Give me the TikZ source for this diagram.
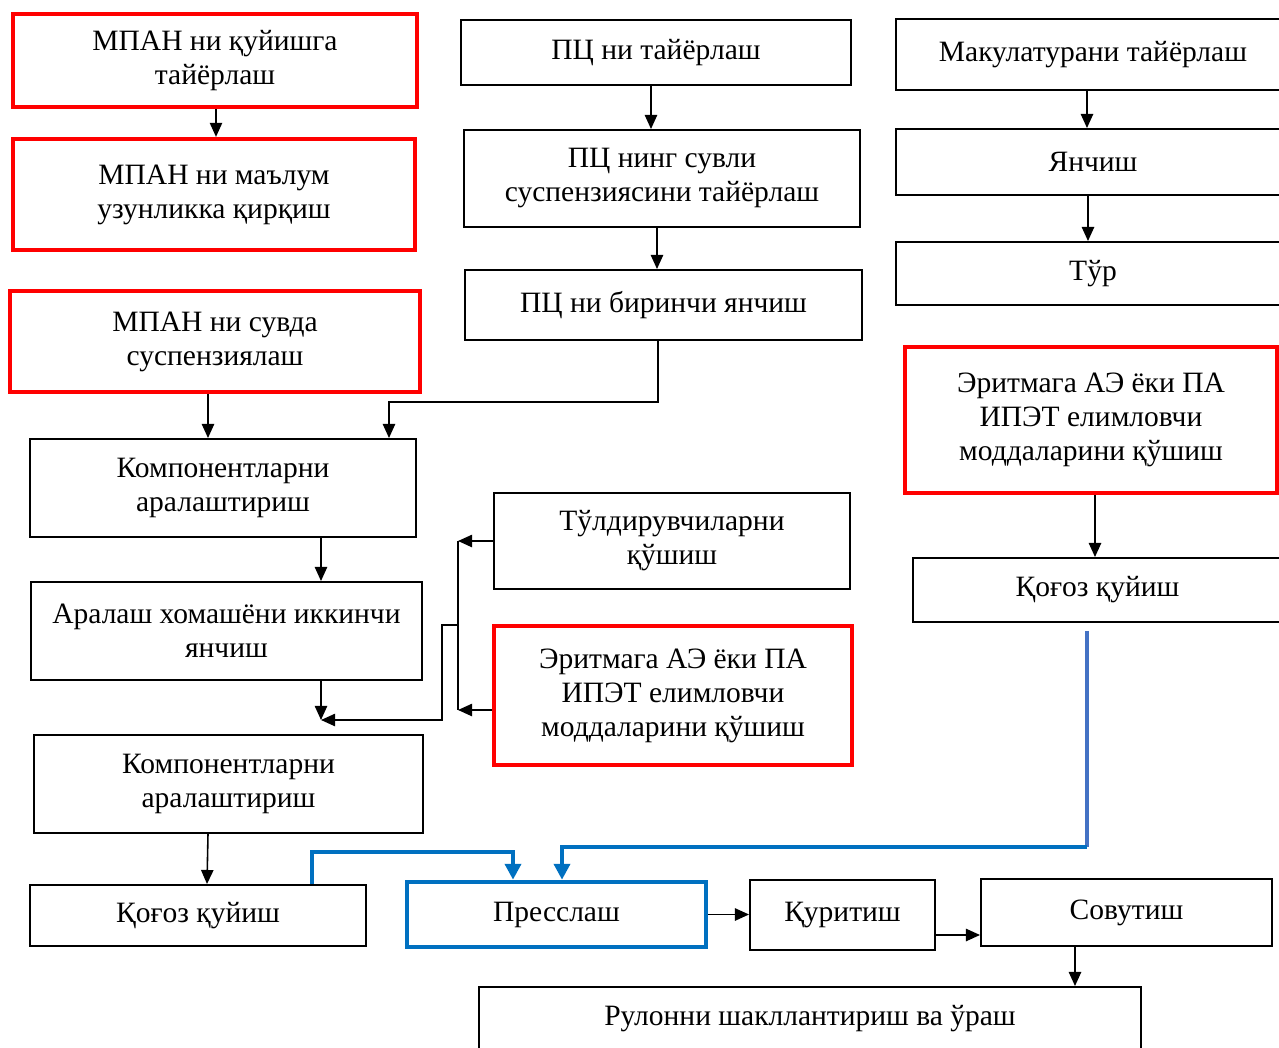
\documentclass[tikz,border=0pt]{standalone}
\usepackage{fontspec}
\setmainfont{Liberation Serif}
\usetikzlibrary{arrows.meta, positioning, calc}
\definecolor{flowred}{HTML}{FF0000}
\definecolor{flowblue}{HTML}{0070C0}
\definecolor{flowlightblue}{HTML}{4472C4}

\begin{document}
\begin{tikzpicture}[
    x=0.02cm, y=-0.02cm,
    box/.style={
      rectangle, draw, inner sep=0pt, align=center, line width=1.1pt,
      font=\fontsize{16.8}{19.35}\selectfont
    },
    boxsize/.style 2 args={minimum width=#1*0.02cm, minimum height=#2*0.02cm},
    redbox/.style={box, draw=flowred, line width=2.4pt},
    bluebox/.style={box, draw=flowblue, line width=2.6pt},
    arrow/.style={-{Triangle[length=8pt, width=7pt]}, line width=0.9pt},
    bluearrow/.style={-{Triangle[length=9pt, width=9pt]}, draw=flowblue, line width=2.6pt},
]
  \useasboundingbox (0,0) rectangle (1279,1048);

  % left column
  \node[redbox, boxsize={404}{93}] (mpanprep) at (215,60.5) {МПАН ни қуйишга\\тайёрлаш};
  \node[redbox, boxsize={402}{111}] (mpancut) at (214,194.5) {МПАН ни маълум\\узунликка қирқиш};
  \node[redbox, boxsize={410}{101}] (mpansusp) at (215,341.5) {МПАН ни сувда\\суспензиялаш};
  \node[box, boxsize={386}{98}] (mixone) at (223,488) {Компонентларни\\аралаштириш};
  \node[box, boxsize={391}{98}] (grindtwo) at (226.5,631) {Аралаш хомашёни иккинчи\\янчиш};
  \node[box, boxsize={389}{98}] (mixtwo) at (228.5,784) {Компонентларни\\аралаштириш};
  \node[box, boxsize={336}{61}] (castleft) at (198,915.5) {Қоғоз қуйиш};

  % middle column
  \node[box, boxsize={390}{65}] (pcprep) at (656,52.5) {ПЦ ни тайёрлаш};
  \node[box, boxsize={396}{97}] (pcsusp) at (662,178.5) {ПЦ нинг сувли\\суспензиясини тайёрлаш};
  \node[box, boxsize={397}{70}] (pcgrind) at (663.5,305) {ПЦ ни биринчи янчиш};
  \node[box, boxsize={356}{96}] (filler) at (672,541) {Тўлдирувчиларни\\қўшиш};
  \node[redbox, boxsize={358}{139}] (gluemid) at (673,695.5) {Эритмага АЭ ёки ПА\\ИПЭТ елимловчи\\моддаларини қўшиш};

  % right column
  \node[box, boxsize={394}{71}] (wasteprep) at (1093,54.5) {Макулатурани тайёрлаш};
  \node[box, boxsize={394}{66}] (wastegrind) at (1093,162) {Янчиш};
  \node[box, boxsize={394}{63}] (mesh) at (1093,273.5) {Тўр};
  \node[redbox, boxsize={372}{146}] (glueright) at (1091,420) {Эритмага АЭ ёки ПА\\ИПЭТ елимловчи\\моддаларини қўшиш};
  \node[box, boxsize={369}{64}] (castright) at (1097.5,590) {Қоғоз қуйиш};

  % bottom row
  \node[bluebox, boxsize={299}{65}] (press) at (556.5,914.5) {Пресслаш};
  \node[box, boxsize={185}{70}] (dry) at (842.5,915) {Қуритиш};
  \node[box, boxsize={291}{67}] (cool) at (1126.5,912.5) {Совутиш};
  \node[box, boxsize={662}{64}] (roll) at (810,1019) {Рулонни шакллантириш ва ўраш};

  \coordinate (pcturn) at (389,402);
  \coordinate (bartop) at (458,541);
  \coordinate (barbot) at (458,710);
  \coordinate (barmid) at (458,625);
  \coordinate (barjoint) at (442,625);
  \coordinate (merge) at (321,720);
  \coordinate (bluebend) at (1087,847);

  \draw[arrow] (mpanprep.south -| 216,0) -- (mpancut.north -| 216,0);
  \draw[arrow] (mpansusp.south -| 208,0) -- (mixone.north -| 208,0);
  \draw[arrow] (pcgrind.south -| 658,0) |- (pcturn) -- (mixone.north -| pcturn);
  \draw[arrow] (mixone.south -| merge) -- (grindtwo.north -| merge);
  \draw[arrow] (grindtwo.south -| merge) -- (merge);
  \draw[arrow] (filler.west |- bartop) -- (bartop);
  \draw[arrow] (gluemid.west |- barbot) -- (barbot);
  \draw[line width=0.9pt] (bartop) -- (barbot);
  \draw[arrow] (barmid) -- (barjoint) |- (merge);
  \draw[arrow] (mixtwo.south -| 208,0) -- (castleft.north -| 207,0);

  \draw[arrow] (pcprep.south -| 651,0) -- (pcsusp.north -| 651,0);
  \draw[arrow] (pcsusp.south -| 657,0) -- (pcgrind.north -| 657,0);

  \draw[arrow] (wasteprep.south -| 1087,0) -- (wastegrind.north -| 1087,0);
  \draw[arrow] (wastegrind.south -| 1088,0) -- (mesh.north -| 1088,0);
  \draw[arrow] (glueright.south -| 1095,0) -- (castright.north -| 1095,0);

  \draw[bluearrow] (castleft.north -| 312,0) |- (513,852) -- (press.north -| 513,0);
  \draw[draw=flowlightblue, line width=2.6pt] (castright.south -| 1087,0) ++(0,8) -- (bluebend);
  \draw[bluearrow] (bluebend) -| (press.north -| 562,0);

  \draw[arrow] (press.east) -- (dry.west |- press.east);
  \draw[arrow] (dry.east |- 0,935) -- (cool.west |- 0,935);
  \draw[arrow] (cool.south -| 1075,0) -- (roll.north -| 1075,0);
\end{tikzpicture}
\end{document}
